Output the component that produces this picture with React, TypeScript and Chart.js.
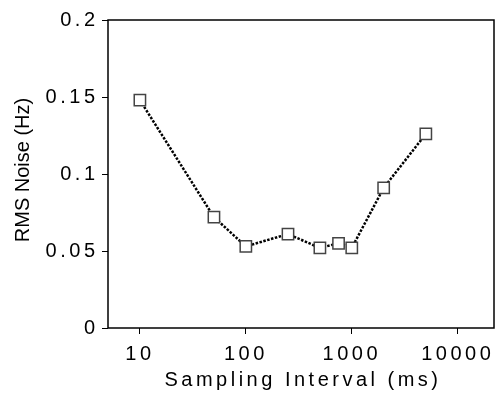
import React, { useEffect, useRef } from 'react';
import { Chart, registerables } from 'chart.js';

Chart.register(...registerables);

const intervalsMs = [10, 50, 100, 250, 500, 750, 1000, 2000, 5000];
const rmsNoiseHz = [0.148, 0.072, 0.053, 0.061, 0.052, 0.055, 0.052, 0.091, 0.126];
const xTickValues = [10, 100, 1000, 10000];
const xTitle = 'Sampling Interval (ms)';
const yTitle = 'RMS Noise (Hz)';

const FONT = "'Liberation Sans', Arial, Helvetica, sans-serif";
const PLOT_RIGHT = 494;

export default function App() {
  const ref = useRef<HTMLCanvasElement>(null);

  useEffect(() => {
    const canvas = ref.current!;
    const framePlugin = {
      id: 'frame',
      afterLayout(chart: any) {
        const a = chart.chartArea;
        a.right = PLOT_RIGHT;
        a.width = a.right - a.left;
        const x = chart.scales.x;
        x.right = PLOT_RIGHT;
        x.width = x.right - x.left;
        x.configure();
      },
      beforeDraw(chart: any) {
        chart.ctx.letterSpacing = '3.5px';
      },
      afterDraw(chart: any) {
        const { ctx, chartArea: a } = chart;
        ctx.save();
        ctx.strokeStyle = '#000';
        ctx.lineWidth = 1.5;
        ctx.strokeRect(a.left, a.top, a.right - a.left, a.bottom - a.top);
        ctx.fillStyle = '#000';
        ctx.font = `20px ${FONT}`;
        ctx.letterSpacing = '3.5px';
        ctx.textAlign = 'center';
        ctx.textBaseline = 'alphabetic';
        ctx.fillText(xTitle, (a.left + a.right) / 2 + 2, 386);
        ctx.letterSpacing = '0px';
        ctx.translate(29, (a.top + a.bottom) / 2 - 4);
        ctx.rotate(-Math.PI / 2);
        ctx.fillText(yTitle, 0, 0);
        ctx.restore();
      },
    };

    const chart = new Chart(canvas, {
      type: 'line',
      data: {
        datasets: [
          {
            data: intervalsMs.map((x, i) => ({ x, y: rmsNoiseHz[i] })),
            borderColor: '#000',
            borderWidth: 2.5,
            borderDash: [2.5, 1.5],
            pointStyle: 'rect',
            pointRadius: 8,
            pointBackgroundColor: '#fff',
            pointBorderColor: '#444',
            pointBorderWidth: 1.5,
            tension: 0,
          },
        ],
      },
      options: {
        animation: false,
        responsive: false,
        layout: { padding: { top: 20, right: 1, left: 0, bottom: 0 } },
        plugins: { legend: { display: false }, tooltip: { enabled: false } },
        scales: {
          x: {
            type: 'logarithmic',
            min: 5,
            max: 22000,
            afterBuildTicks: (s: any) => {
              s.ticks = xTickValues.map((v) => ({ value: v }));
            },
            afterFit: (s: any) => {
              s.height = 65;
            },
            grid: { drawOnChartArea: false, drawTicks: true, tickLength: 6, color: '#000', lineWidth: 1 },
            border: { display: false },
            ticks: {
              color: '#000',
              font: { family: FONT, size: 20 },
              padding: 8,
              autoSkip: false,
              maxRotation: 0,
              callback: (v: any) => String(v),
            },
          },
          y: {
            min: 0,
            max: 0.2,
            afterFit: (s: any) => {
              s.width = 108;
              s.paddingTop = 0;
              s.paddingBottom = 0;
            },
            grid: { drawOnChartArea: false, drawTicks: true, tickLength: 6, color: '#000', lineWidth: 1 },
            border: { display: false },
            ticks: {
              stepSize: 0.05,
              color: '#000',
              font: { family: FONT, size: 20 },
              padding: 3.5,
              callback: (v: any) => String(parseFloat(Number(v).toFixed(2))),
            },
          },
        },
      },
      plugins: [framePlugin],
    } as any);

    return () => chart.destroy();
  }, []);

  return (
    <div style={{ position: 'fixed', left: 0, top: 0, width: 495, height: 393, background: '#fff' }}>
      <canvas ref={ref} width={495} height={393} />
    </div>
  );
}
